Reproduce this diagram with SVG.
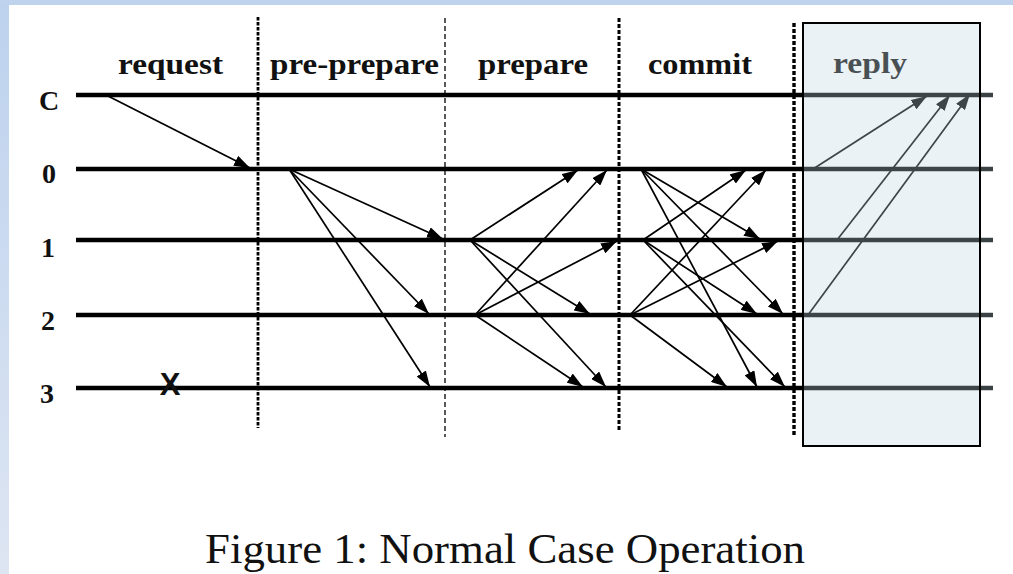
<svg xmlns="http://www.w3.org/2000/svg" width="1013" height="574" viewBox="0 0 1013 574">
  <style>
    .life { stroke: #000; stroke-width: 4.5; }
    .stub { stroke: #3b4244; stroke-width: 4.5; }
    .msg { stroke: #000; stroke-width: 1.7; fill: none; marker-end: url(#ah); }
    .phase { font-family: "Liberation Serif", "Times New Roman", serif; font-weight: bold; font-size: 29px; fill: #111; }
    .rid { font-family: "Liberation Serif", "Times New Roman", serif; font-weight: bold; font-size: 28px; fill: #111; text-anchor: middle; }
    .divider { stroke: #000; fill: none; }
    .caption { font-family: "Liberation Serif", "Times New Roman", serif; font-size: 43px; fill: #111; }
  </style>
  <defs>
    <marker id="ah" markerUnits="userSpaceOnUse" markerWidth="17" markerHeight="11" refX="16" refY="5.5" orient="auto">
      <path d="M0,0 L16,5.5 L0,11 z" fill="#000"/>
    </marker>
    <linearGradient id="edge" x1="0" y1="0" x2="0" y2="1">
      <stop offset="0" stop-color="#bdd2ee"/>
      <stop offset="1" stop-color="#dde5f2"/>
    </linearGradient>
  </defs>

  <!-- page background with the slide frame on the left and top -->
  <rect x="0" y="0" width="1013" height="574" fill="#fff"/>
  <rect x="0" y="0" width="9" height="574" fill="url(#edge)"/>
  <rect x="0" y="0" width="1013" height="5" fill="#bfd3ef"/>

  <!-- phase headings -->
  <g id="phases">
    <text class="phase" x="118" y="74" textLength="105" lengthAdjust="spacingAndGlyphs">request</text>
    <text class="phase" x="270" y="74" textLength="169" lengthAdjust="spacingAndGlyphs">pre-prepare</text>
    <text class="phase" x="478" y="74" textLength="110" lengthAdjust="spacingAndGlyphs">prepare</text>
    <text class="phase" x="648" y="74" textLength="104" lengthAdjust="spacingAndGlyphs">commit</text>
    <text class="phase" x="833" y="73" textLength="74" lengthAdjust="spacingAndGlyphs">reply</text>
  </g>

  <!-- timelines: client and replicas 0..3 -->
  <g id="client-C">
    <line class="life" x1="76" y1="95" x2="980" y2="95"/>
    <line class="stub" x1="980" y1="95" x2="993" y2="95"/>
    <text class="rid" x="49" y="110">C</text>
  </g>
  <g id="replica-0">
    <line class="life" x1="76" y1="169" x2="980" y2="169"/>
    <line class="stub" x1="980" y1="169" x2="993" y2="169"/>
    <text class="rid" x="49" y="183">0</text>
  </g>
  <g id="replica-1">
    <line class="life" x1="76" y1="240" x2="980" y2="240"/>
    <line class="stub" x1="980" y1="240" x2="993" y2="240"/>
    <text class="rid" x="48" y="257">1</text>
  </g>
  <g id="replica-2">
    <line class="life" x1="76" y1="315" x2="980" y2="315"/>
    <line class="stub" x1="980" y1="315" x2="993" y2="315"/>
    <text class="rid" x="48" y="330">2</text>
  </g>
  <g id="replica-3">
    <line class="life" x1="76" y1="388" x2="980" y2="388"/>
    <line class="stub" x1="980" y1="388" x2="993" y2="388"/>
    <text class="rid" x="47" y="403">3</text>
    <text x="170" y="395" text-anchor="middle" font-family="Liberation Sans, Arial, sans-serif" font-weight="bold" font-size="31" fill="#111">X</text>
  </g>

  <!-- phase boundaries -->
  <g id="dividers">
    <line class="divider" x1="258" y1="17" x2="258" y2="428" stroke-width="2.8" stroke-dasharray="3.5 1.5"/>
    <line class="divider" x1="445" y1="18" x2="445" y2="437" stroke-width="1.3" stroke-dasharray="5 3"/>
    <line class="divider" x1="619" y1="18" x2="619" y2="432" stroke-width="3" stroke-dasharray="4 2"/>
    <line class="divider" x1="794" y1="23" x2="794" y2="437" stroke-width="3.4" stroke-dasharray="4 2"/>
  </g>

  <!-- protocol messages -->
  <g id="messages">
    <!-- request -->
    <line class="msg" x1="106" y1="95" x2="250" y2="168"/>
    <!-- pre-prepare from primary -->
    <line class="msg" x1="289" y1="169" x2="443" y2="239"/>
    <line class="msg" x1="289" y1="169" x2="429" y2="314"/>
    <line class="msg" x1="289" y1="169" x2="430" y2="387"/>
    <!-- prepare from replica 1 -->
    <line class="msg" x1="470" y1="240" x2="578" y2="170"/>
    <line class="msg" x1="470" y1="240" x2="590" y2="314"/>
    <line class="msg" x1="470" y1="240" x2="606" y2="387"/>
    <!-- prepare from replica 2 -->
    <line class="msg" x1="475" y1="315" x2="607" y2="170"/>
    <line class="msg" x1="475" y1="315" x2="617" y2="241"/>
    <line class="msg" x1="475" y1="315" x2="583" y2="387"/>
    <!-- commit from replica 0 -->
    <line class="msg" x1="641" y1="169" x2="760" y2="239"/>
    <line class="msg" x1="641" y1="169" x2="783" y2="314"/>
    <line class="msg" x1="641" y1="169" x2="757" y2="387"/>
    <!-- commit from replica 1 -->
    <line class="msg" x1="643" y1="240" x2="746" y2="170"/>
    <line class="msg" x1="643" y1="240" x2="757" y2="314"/>
    <line class="msg" x1="643" y1="240" x2="785" y2="387"/>
    <!-- commit from replica 2 -->
    <line class="msg" x1="630" y1="315" x2="766" y2="170"/>
    <line class="msg" x1="630" y1="315" x2="778" y2="241"/>
    <line class="msg" x1="630" y1="315" x2="727" y2="387"/>
    <!-- replies to the client -->
    <line class="msg" x1="813" y1="169" x2="927" y2="96"/>
    <line class="msg" x1="837" y1="240" x2="950" y2="95"/>
    <line class="msg" x1="808" y1="315" x2="970" y2="94"/>
  </g>

  <!-- shaded reply panel laid over the last phase -->
  <g id="reply-panel">
    <rect x="803" y="23" width="177" height="423" fill="#c0d8e0" fill-opacity="0.32" stroke="#000" stroke-width="2"/>
  </g>

  <text class="caption" x="205" y="563" textLength="600" lengthAdjust="spacingAndGlyphs">Figure 1:  Normal Case Operation</text>
</svg>
